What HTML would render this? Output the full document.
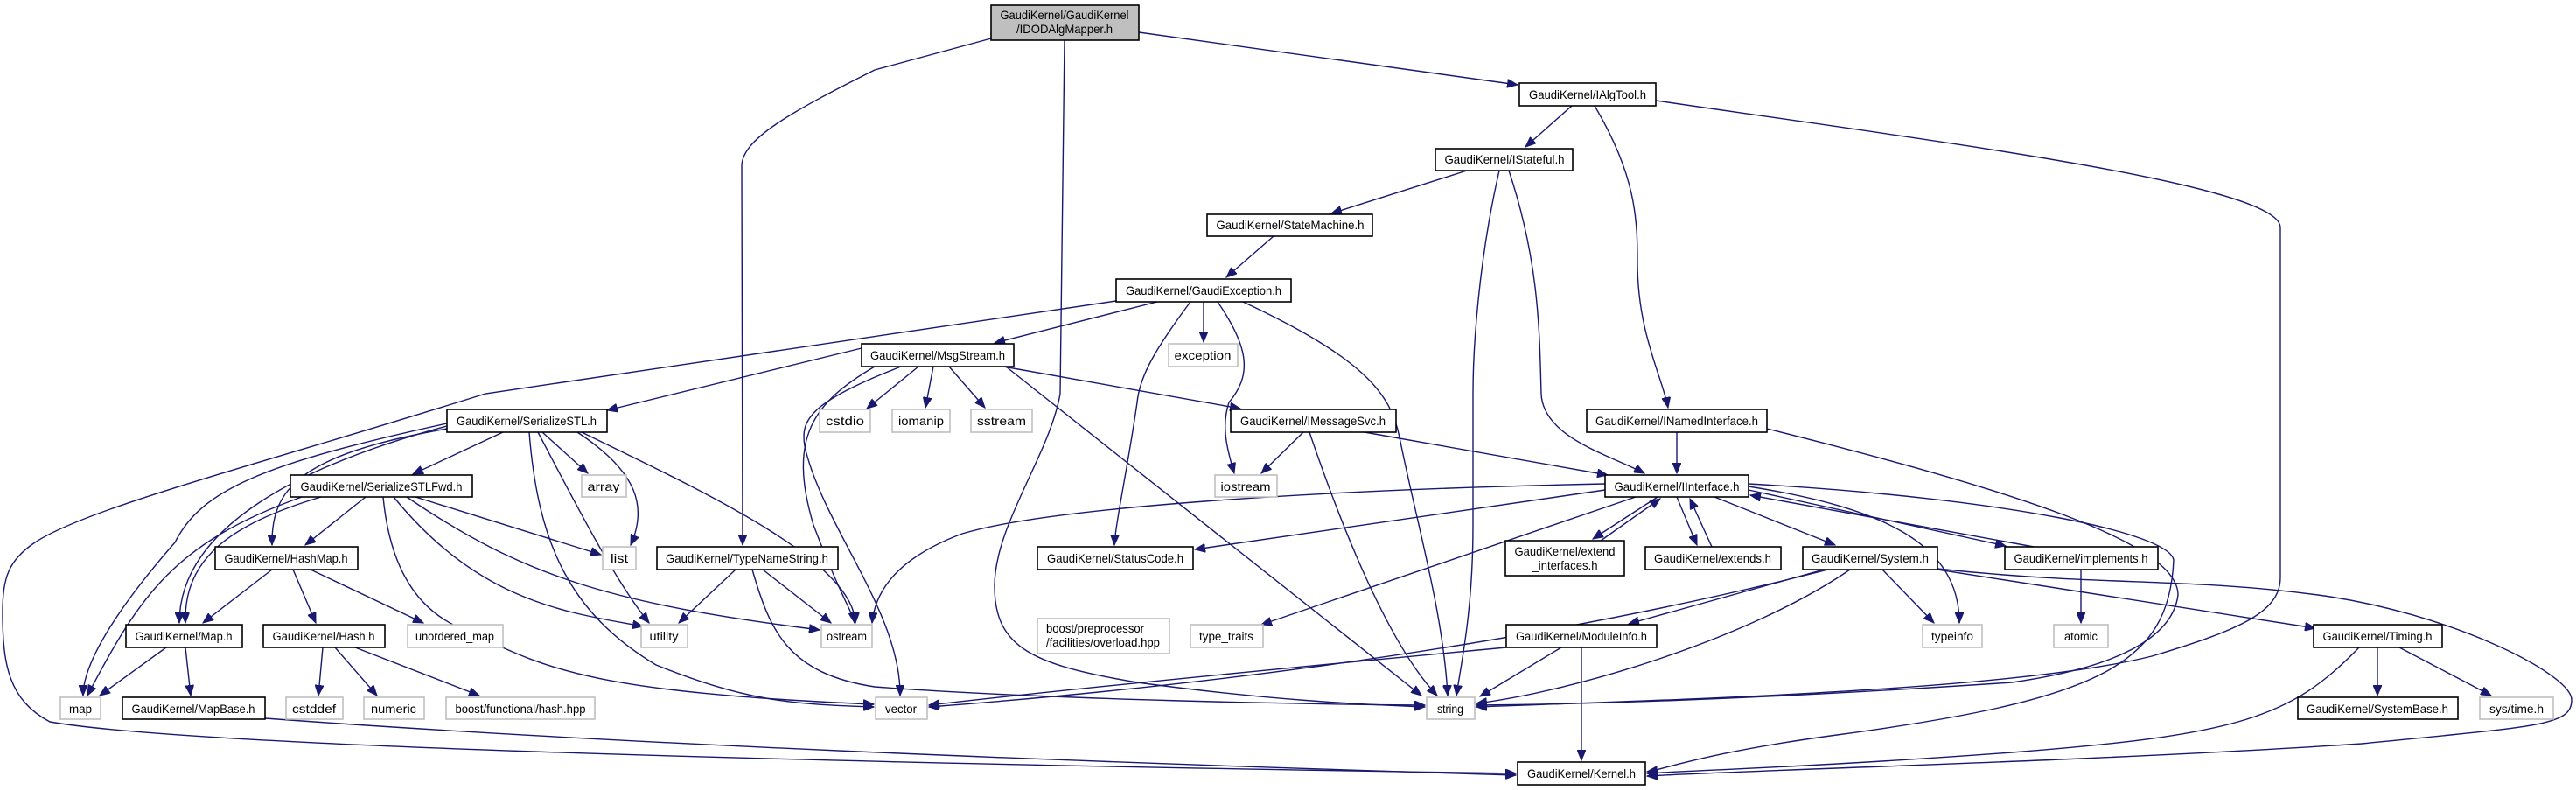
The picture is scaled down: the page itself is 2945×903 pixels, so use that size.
<!DOCTYPE html>
<html><head><meta charset="utf-8"><style>
html,body{margin:0;padding:0;background:#fff;}
svg{display:block}
text{font-family:"Liberation Sans",Arial,sans-serif;font-size:14px;fill:#000}
.e{fill:none;stroke:#191970;stroke-width:1.4;marker-end:url(#a)}
.n{fill:#fff;stroke:#000;stroke-width:1.6}
.g{fill:#fff;stroke:#bfbfbf;stroke-width:1.6}
</style></head><body>
<svg width="2945" height="903" viewBox="0 0 2945 903" xmlns="http://www.w3.org/2000/svg">
<defs><marker id="a" markerUnits="userSpaceOnUse" markerWidth="14" markerHeight="10" refX="12" refY="5" orient="auto"><path d="M0,0 L12,5 L0,10 z" fill="#191970" stroke="#191970"/></marker></defs>
<g>
<path class="e" d="M1302,37 L1735,97"/>
<path class="e" d="M1133,44 L1000,80 C900,130 848,160 848,190 L849,623"/>
<path class="e" d="M1217,46 L1212,450 C1200,520 1137,600 1137,670 C1137,740 1180,760 1300,780 C1450,800 1550,805 1629,808"/>
<path class="e" d="M1797,121 L1744,168"/>
<path class="e" d="M1823,121 C1870,200 1872,250 1872,300 C1872,380 1900,430 1907,466"/>
<path class="e" d="M1893,115 C2200,160 2607,210 2607,260 L2607,660 C2607,700 2560,720 2460,750 C2300,790 1900,800 1688,808"/>
<path class="e" d="M1677,195 L1522,244"/>
<path class="e" d="M1714,195 C1690,300 1684,400 1684,450 L1684,600 C1684,700 1670,760 1665,795"/>
<path class="e" d="M1725,195 C1760,300 1760,380 1762,450 C1764,500 1840,520 1880,541"/>
<path class="e" d="M1456,270 L1402,317"/>
<path class="e" d="M1323,345 L1137,392"/>
<path class="e" d="M1376,345 L1376,391"/>
<path class="e" d="M1276,344 L555,450 C300,530 100,580 40,620 C10,640 3,660 3,700 C3,760 10,800 57,825 C200,850 800,870 1733,884"/>
<path class="e" d="M1361,345 C1320,400 1303,430 1300,460 C1290,530 1275,600 1274,623"/>
<path class="e" d="M1392,345 C1430,400 1430,430 1405,460 C1395,490 1405,520 1411,541"/>
<path class="e" d="M1421,345 C1560,410 1590,450 1600,500 C1620,600 1650,700 1655,795"/>
<path class="e" d="M985,398 L694,469"/>
<path class="e" d="M1050,419 L991,467"/>
<path class="e" d="M1067,419 L1058,466"/>
<path class="e" d="M1085,419 L1126,466"/>
<path class="e" d="M1030,419 C925,460 915,480 920,510 C940,600 1030,700 1029,795"/>
<path class="e" d="M1150,419 L1625,795"/>
<path class="e" d="M1147,419 L1418,467"/>
<path class="e" d="M1000,419 C930,460 900,500 930,600 C960,680 975,700 977,712"/>
<path class="e" d="M1490,494 L1442,541"/>
<path class="e" d="M1497,494 C1550,650 1600,750 1643,795"/>
<path class="e" d="M1560,494 L1838,543"/>
<path class="e" d="M575,494 L472,542"/>
<path class="e" d="M511,490 C340,520 310,560 311,623"/>
<path class="e" d="M511,487 C350,530 205,600 205,712"/>
<path class="e" d="M511,484 C300,530 230,560 200,620 C130,700 95,760 95,795"/>
<path class="e" d="M620,494 L672,541"/>
<path class="e" d="M660,494 C730,540 740,580 721,623"/>
<path class="e" d="M615,494 C650,560 700,660 742,712"/>
<path class="e" d="M605,494 C615,620 650,700 750,760 C850,800 900,805 999,808"/>
<path class="e" d="M665,494 C800,560 975,640 978,712"/>
<path class="e" d="M418,568 L349,623"/>
<path class="e" d="M367,568 C260,600 210,640 212,712"/>
<path class="e" d="M345,568 C200,620 160,680 100,795"/>
<path class="e" d="M475,568 L687,634"/>
<path class="e" d="M450,568 C550,690 650,700 735,716"/>
<path class="e" d="M438,568 C445,640 470,690 520,715 C620,760 650,790 999,805"/>
<path class="e" d="M465,568 C600,660 700,690 937,720"/>
<path class="e" d="M311,651 L232,712"/>
<path class="e" d="M335,651 L361,712"/>
<path class="e" d="M355,651 L484,712"/>
<path class="e" d="M190,740 L114,795"/>
<path class="e" d="M212,740 L218,795"/>
<path class="e" d="M303,821 C700,850 1200,870 1733,886"/>
<path class="e" d="M369,740 L364,795"/>
<path class="e" d="M383,740 L431,795"/>
<path class="e" d="M406,740 L548,795"/>
<path class="e" d="M841,651 L776,712"/>
<path class="e" d="M872,651 L950,712"/>
<path class="e" d="M860,651 C880,720 900,770 1000,785 C1200,800 1500,805 1629,806"/>
<path class="e" d="M1917,494 L1917,541"/>
<path class="e" d="M2020,490 C2300,560 2490,620 2490,680 C2485,720 2440,760 2300,780 C2000,800 1800,805 1688,806"/>
<path class="e" d="M1835,560 L1366,628"/>
<path class="e" d="M1835,553 C1500,560 1200,580 1100,610 C1020,640 1000,680 997,712"/>
<path class="e" d="M1870,568 L1442,714"/>
<path class="e" d="M1895,568 L1821,616"/>
<path class="e" d="M1830,618 L1898,570"/>
<path class="e" d="M1917,568 L1940,623"/>
<path class="e" d="M1957,625 L1932,570"/>
<path class="e" d="M1960,568 L2098,623"/>
<path class="e" d="M1999,560 L2293,624"/>
<path class="e" d="M2325,625 L2001,566"/>
<path class="e" d="M1999,556 C2150,580 2240,620 2240,712"/>
<path class="e" d="M1999,553 C2300,570 2480,610 2485,640 C2480,760 2400,800 2100,840 C1950,860 1900,880 1883,882"/>
<path class="e" d="M2152,651 L2211,712"/>
<path class="e" d="M2085,651 L1862,713"/>
<path class="e" d="M2115,651 C2000,730 1800,790 1688,804"/>
<path class="e" d="M2090,651 C1700,750 1300,790 1062,808"/>
<path class="e" d="M2215,651 L2647,718"/>
<path class="e" d="M2215,650 C2400,670 2500,660 2650,680 C2800,700 2940,770 2940,800 C2940,830 2900,830 2700,850 C2400,870 2000,880 1883,887"/>
<path class="e" d="M2379,651 L2379,712"/>
<path class="e" d="M1722,740 C1400,770 1200,790 1062,806"/>
<path class="e" d="M1785,740 L1692,796"/>
<path class="e" d="M1808,740 L1808,869"/>
<path class="e" d="M2718,740 L2718,795"/>
<path class="e" d="M2743,740 L2848,795"/>
<path class="e" d="M2697,740 C2620,820 2560,840 2300,860 C2100,875 1950,880 1883,884"/>
</g>
<g>
<rect x="1133" y="6" width="169" height="40" fill="#bfbfbf" stroke="#000" stroke-width="1.6"/>
<text x="1217" y="22" text-anchor="middle" textLength="147" lengthAdjust="spacingAndGlyphs">GaudiKernel/GaudiKernel</text>
<text x="1217" y="38" text-anchor="middle" textLength="110" lengthAdjust="spacingAndGlyphs">/IDODAlgMapper.h</text>

<rect class="n" x="1737" y="95" width="156" height="26"/><text x="1815" y="113" text-anchor="middle" textLength="134" lengthAdjust="spacingAndGlyphs">GaudiKernel/IAlgTool.h</text>
<rect class="n" x="1641" y="170" width="157" height="25"/><text x="1720" y="187" text-anchor="middle" textLength="137" lengthAdjust="spacingAndGlyphs">GaudiKernel/IStateful.h</text>
<rect class="n" x="1380" y="245" width="189" height="25"/><text x="1475" y="262" text-anchor="middle" textLength="169" lengthAdjust="spacingAndGlyphs">GaudiKernel/StateMachine.h</text>
<rect class="n" x="1276" y="319" width="200" height="26"/><text x="1376" y="337" text-anchor="middle" textLength="178" lengthAdjust="spacingAndGlyphs">GaudiKernel/GaudiException.h</text>
<rect class="n" x="985" y="393" width="174" height="26"/><text x="1072" y="411" text-anchor="middle" textLength="154" lengthAdjust="spacingAndGlyphs">GaudiKernel/MsgStream.h</text>
<rect class="g" x="1336" y="393" width="79" height="26"/><text x="1375" y="411" text-anchor="middle" textLength="65" lengthAdjust="spacingAndGlyphs">exception</text>

<rect class="g" x="937" y="468" width="58" height="26"/><text x="966" y="486" text-anchor="middle" textLength="44" lengthAdjust="spacingAndGlyphs">cstdio</text>
<rect class="g" x="1020" y="468" width="66" height="26"/><text x="1053" y="486" text-anchor="middle" textLength="52" lengthAdjust="spacingAndGlyphs">iomanip</text>
<rect class="g" x="1110" y="468" width="70" height="26"/><text x="1145" y="486" text-anchor="middle" textLength="56" lengthAdjust="spacingAndGlyphs">sstream</text>
<rect class="n" x="1407" y="468" width="189" height="26"/><text x="1501" y="486" text-anchor="middle" textLength="166" lengthAdjust="spacingAndGlyphs">GaudiKernel/IMessageSvc.h</text>
<rect class="n" x="1814" y="468" width="206" height="26"/><text x="1917" y="486" text-anchor="middle" textLength="186" lengthAdjust="spacingAndGlyphs">GaudiKernel/INamedInterface.h</text>
<rect class="n" x="511" y="468" width="183" height="26"/><text x="602" y="486" text-anchor="middle" textLength="160" lengthAdjust="spacingAndGlyphs">GaudiKernel/SerializeSTL.h</text>

<rect class="n" x="332" y="543" width="208" height="25"/><text x="436" y="561" text-anchor="middle" textLength="185" lengthAdjust="spacingAndGlyphs">GaudiKernel/SerializeSTLFwd.h</text>
<rect class="g" x="665" y="543" width="51" height="25"/><text x="690" y="561" text-anchor="middle" textLength="37" lengthAdjust="spacingAndGlyphs">array</text>
<rect class="g" x="1389" y="543" width="71" height="25"/><text x="1424" y="561" text-anchor="middle" textLength="57" lengthAdjust="spacingAndGlyphs">iostream</text>
<rect class="n" x="1835" y="543" width="164" height="25"/><text x="1917" y="561" text-anchor="middle" textLength="143" lengthAdjust="spacingAndGlyphs">GaudiKernel/IInterface.h</text>

<rect class="n" x="246" y="625" width="163" height="26"/><text x="327" y="643" text-anchor="middle" textLength="141" lengthAdjust="spacingAndGlyphs">GaudiKernel/HashMap.h</text>
<rect class="g" x="689" y="625" width="38" height="26"/><text x="708" y="643" text-anchor="middle" textLength="20" lengthAdjust="spacingAndGlyphs">list</text>
<rect class="n" x="751" y="625" width="207" height="26"/><text x="854" y="643" text-anchor="middle" textLength="186" lengthAdjust="spacingAndGlyphs">GaudiKernel/TypeNameString.h</text>
<rect class="n" x="1186" y="625" width="178" height="26"/><text x="1275" y="643" text-anchor="middle" textLength="156" lengthAdjust="spacingAndGlyphs">GaudiKernel/StatusCode.h</text>
<rect class="n" x="1721" y="618" width="136" height="40"/>
<text x="1789" y="635" text-anchor="middle" textLength="115" lengthAdjust="spacingAndGlyphs">GaudiKernel/extend</text>
<text x="1789" y="651" text-anchor="middle" textLength="75" lengthAdjust="spacingAndGlyphs">_interfaces.h</text>
<rect class="n" x="1881" y="625" width="155" height="26"/><text x="1958" y="643" text-anchor="middle" textLength="134" lengthAdjust="spacingAndGlyphs">GaudiKernel/extends.h</text>
<rect class="n" x="2061" y="625" width="154" height="26"/><text x="2138" y="643" text-anchor="middle" textLength="134" lengthAdjust="spacingAndGlyphs">GaudiKernel/System.h</text>
<rect class="n" x="2292" y="625" width="175" height="26"/><text x="2379" y="643" text-anchor="middle" textLength="153" lengthAdjust="spacingAndGlyphs">GaudiKernel/implements.h</text>

<rect class="n" x="144" y="714" width="133" height="26"/><text x="210" y="732" text-anchor="middle" textLength="111" lengthAdjust="spacingAndGlyphs">GaudiKernel/Map.h</text>
<rect class="n" x="301" y="714" width="139" height="26"/><text x="370" y="732" text-anchor="middle" textLength="117" lengthAdjust="spacingAndGlyphs">GaudiKernel/Hash.h</text>
<rect class="g" x="466" y="714" width="109" height="26"/><text x="520" y="732" text-anchor="middle" textLength="90" lengthAdjust="spacingAndGlyphs">unordered_map</text>
<rect class="g" x="733" y="714" width="53" height="26"/><text x="759" y="732" text-anchor="middle" textLength="33" lengthAdjust="spacingAndGlyphs">utility</text>
<rect class="g" x="939" y="714" width="58" height="26"/><text x="968" y="732" text-anchor="middle" textLength="46" lengthAdjust="spacingAndGlyphs">ostream</text>
<rect class="g" x="1186" y="707" width="151" height="40"/>
<text x="1196" y="723" textLength="112" lengthAdjust="spacingAndGlyphs">boost/preprocessor</text>
<text x="1196" y="739" textLength="130" lengthAdjust="spacingAndGlyphs">/facilities/overload.hpp</text>
<rect class="g" x="1361" y="714" width="83" height="26"/><text x="1402" y="732" text-anchor="middle" textLength="62" lengthAdjust="spacingAndGlyphs">type_traits</text>
<rect class="n" x="1722" y="714" width="172" height="26"/><text x="1808" y="732" text-anchor="middle" textLength="150" lengthAdjust="spacingAndGlyphs">GaudiKernel/ModuleInfo.h</text>
<rect class="g" x="2198" y="714" width="68" height="26"/><text x="2232" y="732" text-anchor="middle" textLength="48" lengthAdjust="spacingAndGlyphs">typeinfo</text>
<rect class="g" x="2348" y="714" width="62" height="26"/><text x="2379" y="732" text-anchor="middle" textLength="38" lengthAdjust="spacingAndGlyphs">atomic</text>
<rect class="n" x="2645" y="714" width="147" height="26"/><text x="2718" y="732" text-anchor="middle" textLength="125" lengthAdjust="spacingAndGlyphs">GaudiKernel/Timing.h</text>

<rect class="g" x="69" y="797" width="46" height="25"/><text x="92" y="815" text-anchor="middle" textLength="26" lengthAdjust="spacingAndGlyphs">map</text>
<rect class="n" x="140" y="797" width="163" height="25"/><text x="221" y="815" text-anchor="middle" textLength="141" lengthAdjust="spacingAndGlyphs">GaudiKernel/MapBase.h</text>
<rect class="g" x="327" y="797" width="65" height="25"/><text x="359" y="815" text-anchor="middle" textLength="50" lengthAdjust="spacingAndGlyphs">cstddef</text>
<rect class="g" x="416" y="797" width="69" height="25"/><text x="450" y="815" text-anchor="middle" textLength="52" lengthAdjust="spacingAndGlyphs">numeric</text>
<rect class="g" x="510" y="797" width="170" height="25"/><text x="595" y="815" text-anchor="middle" textLength="149" lengthAdjust="spacingAndGlyphs">boost/functional/hash.hpp</text>
<rect class="g" x="1001" y="797" width="59" height="25"/><text x="1030" y="815" text-anchor="middle" textLength="36" lengthAdjust="spacingAndGlyphs">vector</text>
<rect class="g" x="1631" y="797" width="55" height="25"/><text x="1658" y="815" text-anchor="middle" textLength="30" lengthAdjust="spacingAndGlyphs">string</text>
<rect class="n" x="2627" y="797" width="183" height="25"/><text x="2718" y="815" text-anchor="middle" textLength="162" lengthAdjust="spacingAndGlyphs">GaudiKernel/SystemBase.h</text>
<rect class="g" x="2835" y="797" width="84" height="25"/><text x="2877" y="815" text-anchor="middle" textLength="62" lengthAdjust="spacingAndGlyphs">sys/time.h</text>

<rect class="n" x="1735" y="871" width="146" height="26"/><text x="1808" y="889" text-anchor="middle" textLength="124" lengthAdjust="spacingAndGlyphs">GaudiKernel/Kernel.h</text>
</g>
</svg>
</body></html>
